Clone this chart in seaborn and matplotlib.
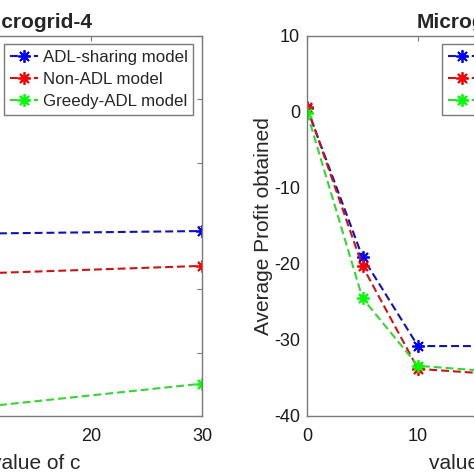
import matplotlib
matplotlib.use("Agg")
import matplotlib.pyplot as plt
import seaborn as sns

sns.set_style("white")
plt.rcParams['font.family'] = ['Liberation Sans', 'DejaVu Sans']
plt.rcParams['axes.unicode_minus'] = False

# values of c
c_vals = [0, 5, 10, 30]

# Microgrid-4 (left panel)
mg4_adl = [0.5, -15.0, -21.2, -20.8]
mg4_non = [0.7, -18.0, -27.5, -26.3]
mg4_greedy = [0.0, -30.0, -48.6, -44.9]

# Microgrid-5 (right panel)
mg5_adl = [0.5, -19.1, -30.8, -30.8]
mg5_non = [0.7, -20.3, -33.8, -35.8]
mg5_greedy = [-0.1, -24.5, -33.4, -35.6]

labels = ['ADL-sharing model', 'Non-ADL model', 'Greedy-ADL model']
line_cols = ['#1212b4', '#cc1414', '#33d633']
mark_cols = ['#0000ff', '#ff0000', '#00ff00']

fig = plt.figure(figsize=(4.74, 4.74), dpi=100)
ax1 = fig.add_axes([-0.2764, 0.1224, 0.7025, 0.8017])
ax2 = fig.add_axes([0.6477, 0.1224, 0.7025, 0.8017])

gray = '#7a7a7a'


def draw(ax, series, title, ylim, yticks):
    for ys, lab, lc, mc in zip(series, labels, line_cols, mark_cols):
        sns.lineplot(x=c_vals, y=ys, ax=ax, label=lab, color=lc,
                     linestyle=(0, (3.8, 1.9)), linewidth=1.5,
                     marker=(8, 2, 0), markersize=9,
                     markeredgecolor=mc, markerfacecolor=mc,
                     markeredgewidth=1.3)
    ax.set_xlim(0, 30)
    ax.set_ylim(*ylim)
    ax.set_xticks([0, 10, 20, 30])
    ax.set_yticks(yticks)
    ax.set_title(title, fontsize=15, fontweight='bold', pad=6)
    ax.set_xlabel('value of c', fontsize=15, labelpad=6)
    ax.set_ylabel('Average Profit obtained', fontsize=15, labelpad=1)
    for sp in ax.spines.values():
        sp.set_visible(True)
        sp.set_color(gray)
        sp.set_linewidth(1.0)
    ax.tick_params(direction='in', length=3.5, width=0.8, color=gray,
                   top=True, right=True, labelsize=13, labelcolor='#1a1a1a')
    ax.tick_params(axis='x', pad=9)
    ax.tick_params(axis='y', pad=5)
    leg = ax.legend(loc='upper right', fontsize=12.2, fancybox=False,
                    edgecolor=gray, framealpha=1, borderpad=0.35,
                    labelspacing=0.4, handlelength=1.7, handletextpad=0.25,
                    borderaxespad=0.5, numpoints=1)
    leg.get_frame().set_linewidth(1.0)


draw(ax1, [mg4_adl, mg4_non, mg4_greedy], 'Microgrid-4', (-50, 10),
     [-50, -40, -30, -20, -10, 0, 10])
draw(ax2, [mg5_adl, mg5_non, mg5_greedy], 'Microgrid-5', (-40, 10),
     [-40, -30, -20, -10, 0, 10])

fig.savefig('out.png', dpi=100)
